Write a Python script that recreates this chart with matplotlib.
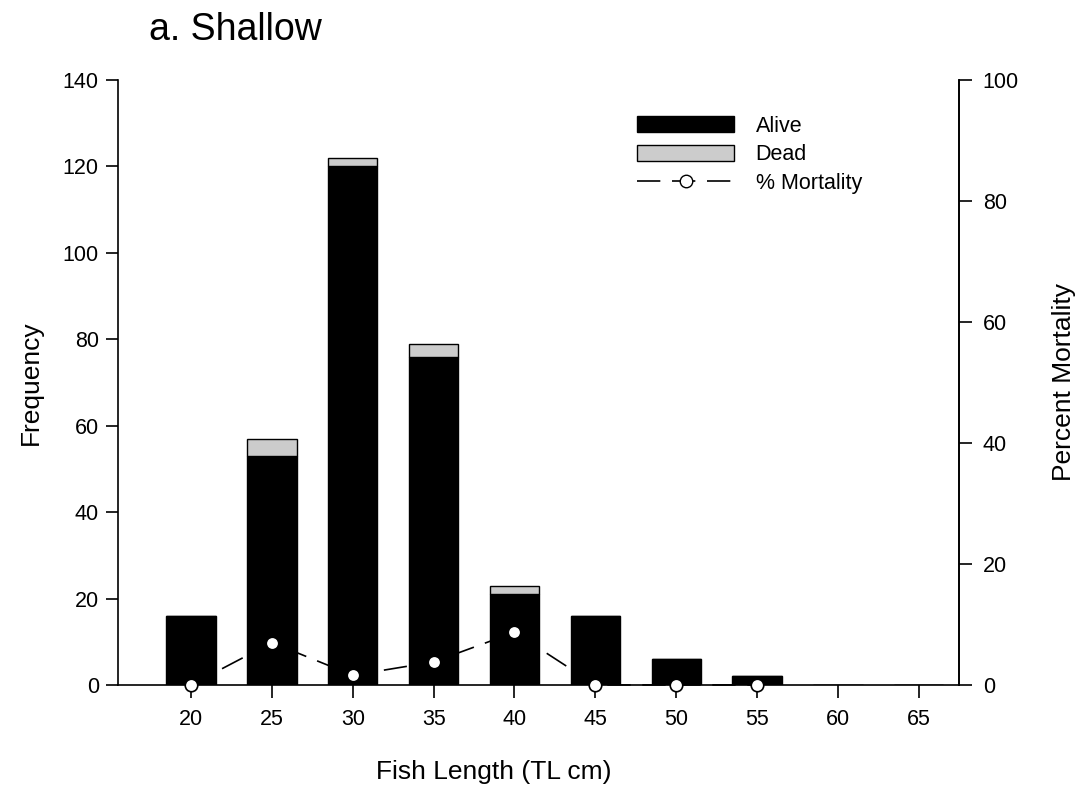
import matplotlib.pyplot as plt
from matplotlib.patches import Patch
from matplotlib.lines import Line2D

plt.rcParams['font.family'] = ['Liberation Sans', 'DejaVu Sans']

# Fish length classes (TL cm)
lengths = [20, 25, 30, 35, 40, 45, 50, 55, 60, 65]
alive = [16, 53, 120, 76, 21, 16, 6, 2, 0, 0]
dead = [0, 4, 2, 3, 2, 0, 0, 0, 0, 0]
# percent mortality only where fish were caught
mort_x = [20, 25, 30, 35, 40, 45, 50, 55]
mort_pct = [0.0, 7.0, 1.6, 3.8, 8.7, 0.0, 0.0, 0.0]

dash = (0, (14, 7))

fig = plt.figure(figsize=(10.79, 7.9), dpi=100, facecolor='white')
ax = fig.add_axes([0.1096, 0.133, 0.7794, 0.7657])
ax2 = ax.twinx()

ax.bar(lengths, alive, width=3.05, color='black', edgecolor='black', linewidth=1, zorder=2)
ax.bar(lengths, dead, width=3.05, bottom=alive, color='#cccccc', edgecolor='black', linewidth=1, zorder=2)

ax2.plot(mort_x, mort_pct, color='black', linestyle=dash, linewidth=1.2,
         marker='o', markersize=9, markerfacecolor='white', markeredgecolor='black',
         markeredgewidth=1.2, clip_on=False, zorder=3)

ax.set_xlim(15.5, 67.5)
ax.set_ylim(0, 140)
ax2.set_ylim(0, 100)
ax.set_xticks(lengths)
ax.set_yticks(range(0, 141, 20))
ax2.set_yticks(range(0, 101, 20))

for a in (ax, ax2):
    a.spines['top'].set_visible(False)
    a.tick_params(direction='out', length=9, width=1.2, labelsize=15.5, pad=8)
    for s in a.spines.values():
        s.set_linewidth(1.2)
ax.tick_params(axis='y', pad=5)
ax2.spines['left'].set_visible(False)
ax2.spines['bottom'].set_visible(False)

ax.set_ylabel('Frequency', fontsize=19, labelpad=14)
ax2.set_ylabel('Percent Mortality', fontsize=19, labelpad=24)
fig.text(0.458, 0.008, 'Fish Length (TL cm)', fontsize=19, ha='center', va='bottom')

fig.text(0.138, 0.962, 'a. Shallow', fontsize=27, ha='left', va='center')

handles = [
    Patch(facecolor='black', edgecolor='black'),
    Patch(facecolor='#cccccc', edgecolor='black'),
    Line2D([0], [0], color='black', linestyle=dash, linewidth=1.2, marker='o',
           markersize=9, markerfacecolor='white', markeredgecolor='black'),
]
ax.legend(handles, ['Alive', 'Dead', '% Mortality'], loc='upper left',
          bbox_to_anchor=(0.594, 0.973), frameon=False, fontsize=15.5,
          handlelength=4.5, handleheight=0.8, handletextpad=1.0, labelspacing=0.35)

plt.savefig('out.png', dpi=100, facecolor='white')
